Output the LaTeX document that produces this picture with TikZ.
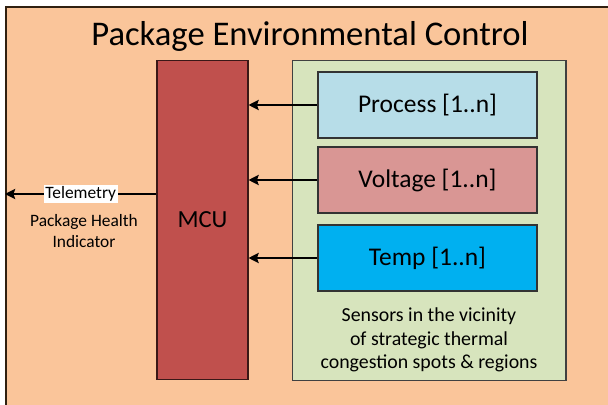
\documentclass[tikz,border=0pt]{standalone}
\usepackage{fontspec}
\usetikzlibrary{arrows.meta}
\setmainfont{Carlito}
\definecolor{peach}{HTML}{FAC59A}
\definecolor{mcured}{HTML}{C0504D}
\definecolor{sensgreen}{HTML}{D7E4BD}
\definecolor{procblue}{HTML}{B7DDE8}
\definecolor{voltred}{HTML}{D99694}
\definecolor{tempblue}{HTML}{00B0F0}
\tikzset{
  sensbox/.style={draw=black!80, line width=0.6pt, minimum width=4.38cm, minimum height=1.32cm, font=\fontsize{14.5}{16}\selectfont},
  link/.style={->, line width=1pt}
}
\begin{document}
\begin{tikzpicture}[x=0.02cm, y=-0.02cm, >={Stealth[length=5.8pt, width=5.8pt, inset=1pt]}]
  \useasboundingbox (0,0) rectangle (608,405);
  % Outer frame (runs off the right and bottom)
  \fill[peach] (6,7) rectangle (610,407);
  \draw[line width=0.9pt, black!75!brown] (6,407) -- (6,7) -- (610,7);
  \node[font=\fontsize{19.7}{22}\selectfont] (title) at (310,36) {Package Environmental Control};

  % MCU and sensor block
  \node[draw=black!70!mcured, fill=mcured, line width=0.6pt, minimum width=1.82cm, minimum height=6.4cm, font=\fontsize{14}{16}\selectfont] (mcu) at (202.5,220) {MCU};
  \node[draw=black!75, fill=sensgreen, line width=0.6pt, minimum width=5.48cm, minimum height=6.42cm] (sens) at (429,220.5) {};

  % Sensors
  \node[sensbox, fill=procblue] (proc) at (427.5,105) {Process [1..n]};
  \node[sensbox, fill=voltred] (volt) at (427.5,180) {Voltage [1..n]};
  \node[sensbox, fill=tempblue] (temp) at (427.5,258) {Temp [1..n]};
  \node[font=\fontsize{11.3}{13.3}\selectfont, align=center] (note) at (429,340) {Sensors in the vicinity\\of strategic thermal\\congestion spots \& regions};

  % Links to the MCU
  \draw[link] (proc.west) -- (proc.west -| mcu.east);
  \draw[link] (volt.west) -- (volt.west -| mcu.east);
  \draw[link] (temp.west) -- (temp.west -| mcu.east);

  % Telemetry out
  \coordinate (tm) at (5,194);
  \draw[link] (mcu.west |- tm) -- (tm) node[midway, fill=white, inner sep=1pt, font=\fontsize{9.9}{11}\selectfont] (tmlabel) {Telemetry};
  \node[font=\fontsize{9.9}{12}\selectfont, align=center] (health) at (84,231) {Package Health\\Indicator};
\end{tikzpicture}
\end{document}
